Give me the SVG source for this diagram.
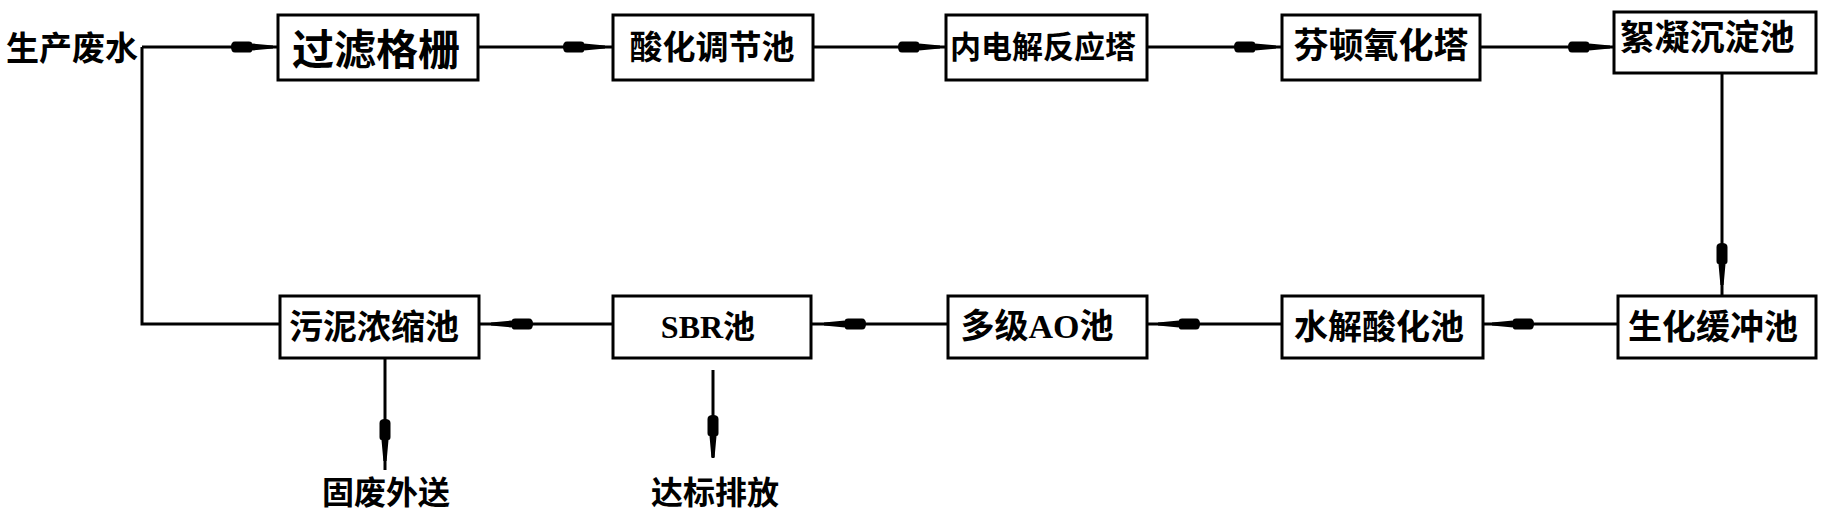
<svg xmlns="http://www.w3.org/2000/svg" xmlns:xlink="http://www.w3.org/1999/xlink" width="1827" height="522" viewBox="0 0 1827 522">
<style>
.box{fill:#fff;stroke:#000;stroke-width:3}
.ln{fill:none;stroke:#000;stroke-width:3}
.t{font-family:"Noto Sans CJK SC","Liberation Sans",sans-serif;font-weight:bold;fill:#000;text-anchor:middle}
.s{font-family:"Liberation Serif","Noto Sans CJK SC",serif;font-weight:bold;fill:#000;text-anchor:middle}
</style>
<defs>
<path id="arr" d="M-38,-5.5 L-24,-5.5 Q-21,-5.5 -21,-3.5 L0,-1.6 L0,1.6 L-21,3.5 Q-21,5.5 -24,5.5 L-38,5.5 Q-42,5.5 -42,0 Q-42,-5.5 -38,-5.5 Z" fill="#000"/>
</defs>
<rect width="1827" height="522" fill="#fff"/>
<g id="connectors">
<path class="ln" d="M142,47 H278 M142,47 V324 H280"/>
<path class="ln" d="M478,47 H613"/>
<path class="ln" d="M813,47 H946"/>
<path class="ln" d="M1147,47 H1282"/>
<path class="ln" d="M1480,47 H1614"/>
<path class="ln" d="M1722,73 V296"/>
<path class="ln" d="M1618,324 H1483"/>
<path class="ln" d="M1282,324 H1147"/>
<path class="ln" d="M948,324 H811"/>
<path class="ln" d="M613,324 H479"/>
<path class="ln" d="M385,358 V470"/>
<path class="ln" d="M713,370 V458"/>
<use href="#arr" transform="translate(273,47)"/>
<use href="#arr" transform="translate(605,47)"/>
<use href="#arr" transform="translate(940,47)"/>
<use href="#arr" transform="translate(1276,47)"/>
<use href="#arr" transform="translate(1610,47)"/>
<use href="#arr" transform="translate(1722,285) rotate(90)"/>
<use href="#arr" transform="translate(1492,324) rotate(180)"/>
<use href="#arr" transform="translate(1158,324) rotate(180)"/>
<use href="#arr" transform="translate(824,324) rotate(180)"/>
<use href="#arr" transform="translate(491,324) rotate(180)"/>
<use href="#arr" transform="translate(385,461) rotate(90)"/>
<use href="#arr" transform="translate(713,457) rotate(90)"/>
</g>
<g id="n_source"><text class="t" x="72" y="60" font-size="33">生产废水</text></g>
<g id="n1"><rect class="box" x="278" y="15" width="200" height="65"/><text class="t" x="376" y="65" font-size="42">过滤格栅</text></g>
<g id="n2"><rect class="box" x="613" y="15" width="200" height="65"/><text class="t" x="712" y="59" font-size="33">酸化调节池</text></g>
<g id="n3"><rect class="box" x="946" y="15" width="201" height="65"/><text class="t" x="1043" y="58" font-size="31">内电解反应塔</text></g>
<g id="n4"><rect class="box" x="1282" y="15" width="198" height="65"/><text class="t" x="1381" y="58" font-size="35">芬顿氧化塔</text></g>
<g id="n5"><rect class="box" x="1614" y="12" width="202" height="61"/><text class="t" x="1707" y="50" font-size="35">絮凝沉淀池</text></g>
<g id="n6"><rect class="box" x="1618" y="296" width="198" height="62"/><text class="t" x="1713" y="339" font-size="34">生化缓冲池</text></g>
<g id="n7"><rect class="box" x="1282" y="296" width="201" height="62"/><text class="t" x="1379" y="339" font-size="34">水解酸化池</text></g>
<g id="n8"><rect class="box" x="948" y="296" width="199" height="62"/><text class="s" x="1037" y="338" font-size="34">多级AO池</text></g>
<g id="n9"><rect class="box" x="613" y="296" width="198" height="62"/><text class="s" x="708" y="338" font-size="32">SBR池</text></g>
<g id="n10"><rect class="box" x="280" y="296" width="199" height="62"/><text class="t" x="374" y="339" font-size="34">污泥浓缩池</text></g>
<g id="n_solid"><text class="t" x="386" y="504" font-size="32">固废外送</text></g>
<g id="n_out"><text class="t" x="715" y="504" font-size="32">达标排放</text></g>
</svg>
